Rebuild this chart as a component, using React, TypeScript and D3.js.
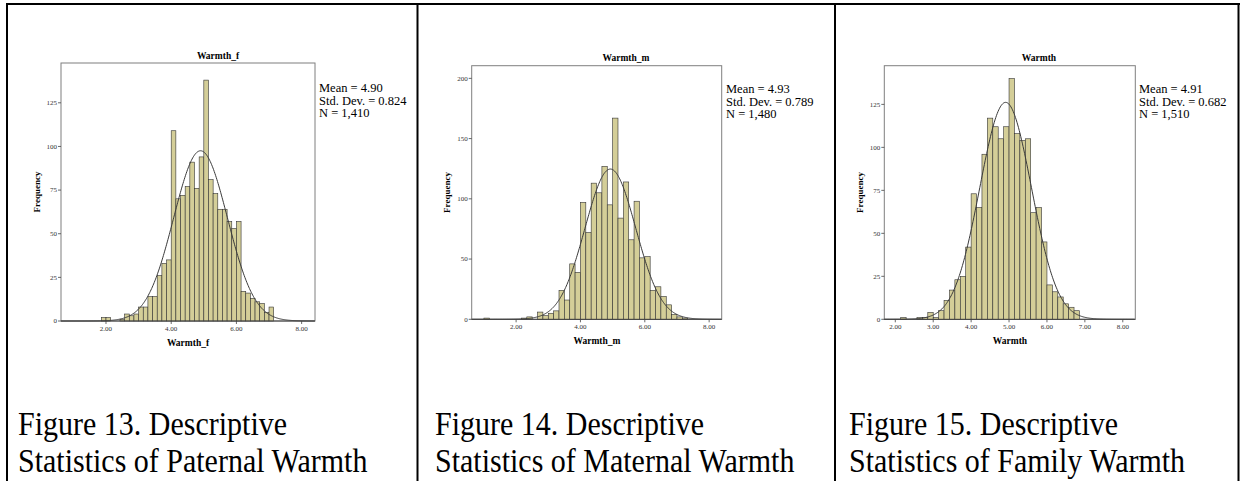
import React from 'react';
import * as d3 from 'd3';

// Counts per bin
const PATERNAL_COUNTS = [2, 2, 0, 0, 1, 4, 3, 4, 8, 8, 14, 14, 26, 33, 35, 109, 70, 72, 77, 91, 76, 94, 138, 81, 73, 64, 64, 57, 53, 57, 17, 16, 13, 11, 10, 5, 8];
const MATERNAL_COUNTS = [1, 0, 0, 0, 0, 0, 0, 1, 2, 0, 6, 3, 5, 7, 24, 16, 46, 39, 97, 72, 113, 105, 127, 95, 167, 84, 114, 66, 98, 51, 52, 24, 27, 19, 12, 4, 2, 1];
const FAMILY_COUNTS = [1, 0, 0, 1, 1, 4, 1, 5, 11, 17, 23, 25, 42, 73, 65, 96, 117, 112, 105, 112, 140, 108, 104, 105, 62, 65, 45, 20, 16, 13, 9, 7, 5];

const TICKS_EVEN = [2, 4, 6, 8];
const TICKS_ALL = [2, 3, 4, 5, 6, 7, 8];
const FREQ_TICKS_25 = [0, 25, 50, 75, 100, 125];
const FREQ_TICKS_50 = [0, 50, 100, 150, 200];

const CAPTIONS = [
  ['Figure 13. Descriptive', 'Statistics of Paternal Warmth'],
  ['Figure 14. Descriptive', 'Statistics of Maternal Warmth'],
  ['Figure 15. Descriptive', 'Statistics of Family Warmth'],
];

const SERIF = '"Liberation Serif", "Times New Roman", serif';
const BAR_FILL = '#d4ce98';

interface HistProps {
  left: number; right: number; top: number; bottom: number;
  xDomain: [number, number];
  yMax: number;
  xTicks: number[];
  yTicks: number[];
  binStart: number;
  binWidth: number;
  counts: number[];
  mean: number; sd: number; n: number;
  title: string;
  titleX: number;
  titleY: number;
  statsX: number;
  statsY: number;
  stats: string[];
  yLabelX: number;
  xLabelX: number;
  xLabelY: number;
}

const Histogram = (p: HistProps) => {
  const x = d3.scaleLinear().domain(p.xDomain).range([p.left, p.right]);
  const y = d3.scaleLinear().domain([0, p.yMax]).range([p.bottom, p.top]);

  const bins = p.counts.map((c, i) => ({
    x0: p.binStart + i * p.binWidth,
    x1: p.binStart + (i + 1) * p.binWidth,
    c,
  }));

  // fitted normal curve, scaled to counts per bin
  const pdf = (v: number) => Math.exp(-0.5 * ((v - p.mean) / p.sd) ** 2) / (p.sd * Math.sqrt(2 * Math.PI));
  const pts = d3.range(p.xDomain[0], p.xDomain[1], 0.02).map((v) => [v, p.n * p.binWidth * pdf(v)] as [number, number]);
  const line = d3.line<[number, number]>().x((d) => x(d[0])).y((d) => y(d[1]));

  return (
    <g fontFamily={SERIF}>
      <text x={p.titleX} y={p.titleY} fontSize={9.5} fontWeight="bold" textAnchor="middle">{p.title}</text>
      <rect x={p.left} y={p.top} width={p.right - p.left} height={p.bottom - p.top} fill="#fff" stroke="#7f7f7f" strokeWidth={1} />
      {bins.filter((b) => b.c > 0).map((b, i) => (
        <rect key={i} x={x(b.x0)} y={y(b.c)} width={x(b.x1) - x(b.x0)} height={y(0) - y(b.c)}
          fill={BAR_FILL} stroke="#333" strokeWidth={0.6} />
      ))}
      <path d={line(pts) || ''} fill="none" stroke="#3a3a3a" strokeWidth={1} />
      <line x1={p.left} x2={p.right} y1={p.bottom} y2={p.bottom} stroke="#444" strokeWidth={1} />
      {p.yTicks.map((t) => (
        <g key={t}>
          <line x1={p.left - 3} x2={p.left} y1={y(t)} y2={y(t)} stroke="#444" strokeWidth={0.8} />
          <text x={p.left - 4} y={y(t) + 2.3} fontSize={7} textAnchor="end" fill="#333">{t}</text>
        </g>
      ))}
      {p.xTicks.map((t) => (
        <g key={t}>
          <line x1={x(t)} x2={x(t)} y1={p.bottom} y2={p.bottom + 3} stroke="#444" strokeWidth={0.8} />
          <text x={x(t)} y={p.bottom + 10} fontSize={7} textAnchor="middle" fill="#333">{t.toFixed(2)}</text>
        </g>
      ))}
      <text transform={`translate(${p.yLabelX},${(p.top + p.bottom) / 2}) rotate(-90)`} fontSize={9} fontWeight="bold" textAnchor="middle">Frequency</text>
      <text x={p.xLabelX} y={p.xLabelY} fontSize={9.5} fontWeight="bold" textAnchor="middle">{p.title}</text>
      {p.stats.map((s, i) => (
        <text key={i} x={p.statsX} y={p.statsY + i * 12.5} fontSize={12.5}>{s}</text>
      ))}
    </g>
  );
};

const CAPTION_X = [18, 435, 849];

export default function App() {
  return (
    <div style={{ position: 'absolute', left: 0, top: 0 }}>
      <svg width={1240} height={481} viewBox="0 0 1240 481" style={{ display: 'block', background: '#fff' }}>
        <rect width={1240} height={481} fill="#fff" />
        {/* table borders */}
        <g stroke="#000" strokeWidth={2}>
          <line x1={6} x2={1240} y1={4} y2={4} />
          <line x1={7} x2={7} y1={3} y2={481} />
          <line x1={417.5} x2={417.5} y1={3} y2={481} />
          <line x1={835} x2={835} y1={3} y2={481} />
          <line x1={1238.5} x2={1238.5} y1={3} y2={481} />
        </g>

        <Histogram left={61} right={315} top={63} bottom={321}
          xDomain={[0.62, 8.41]} yMax={147.8} xTicks={TICKS_EVEN} yTicks={FREQ_TICKS_25}
          binStart={13 / 7} binWidth={1 / 7} counts={PATERNAL_COUNTS}
          mean={4.90} sd={0.824} n={1410}
          title="Warmth_f" titleX={218} titleY={59}
          statsX={319} statsY={92} stats={['Mean = 4.90', 'Std. Dev. = 0.824', 'N = 1,410']}
          yLabelX={40} xLabelX={188} xLabelY={346} />

        <Histogram left={471.7} right={721.7} top={65.7} bottom={319.3}
          xDomain={[0.62, 8.39]} yMax={210.5} xTicks={TICKS_EVEN} yTicks={FREQ_TICKS_50}
          binStart={1} binWidth={1 / 6} counts={MATERNAL_COUNTS}
          mean={4.93} sd={0.789} n={1480}
          title="Warmth_m" titleX={626} titleY={61}
          statsX={726} statsY={93} stats={['Mean = 4.93', 'Std. Dev. = 0.789', 'N = 1,480']}
          yLabelX={450} xLabelX={597} xLabelY={344} />

        <Histogram left={884.3} right={1135.3} top={65.7} bottom={319.3}
          xDomain={[1.71, 8.33]} yMax={147.5} xTicks={TICKS_ALL} yTicks={FREQ_TICKS_25}
          binStart={15 / 7} binWidth={1 / 7} counts={FAMILY_COUNTS}
          mean={4.91} sd={0.682} n={1510}
          title="Warmth" titleX={1039} titleY={61}
          statsX={1139} statsY={93} stats={['Mean = 4.91', 'Std. Dev. = 0.682', 'N = 1,510']}
          yLabelX={863} xLabelX={1010} xLabelY={344} />

        {CAPTIONS.map((lines, i) => (
          <g key={i} fontFamily={SERIF} fontSize={30} fill="#000">
            <text transform={`translate(${CAPTION_X[i]},435) scale(1,1.12)`}>{lines[0]}</text>
            <text transform={`translate(${CAPTION_X[i]},472) scale(1,1.12)`}>{lines[1]}</text>
          </g>
        ))}
      </svg>
    </div>
  );
}
